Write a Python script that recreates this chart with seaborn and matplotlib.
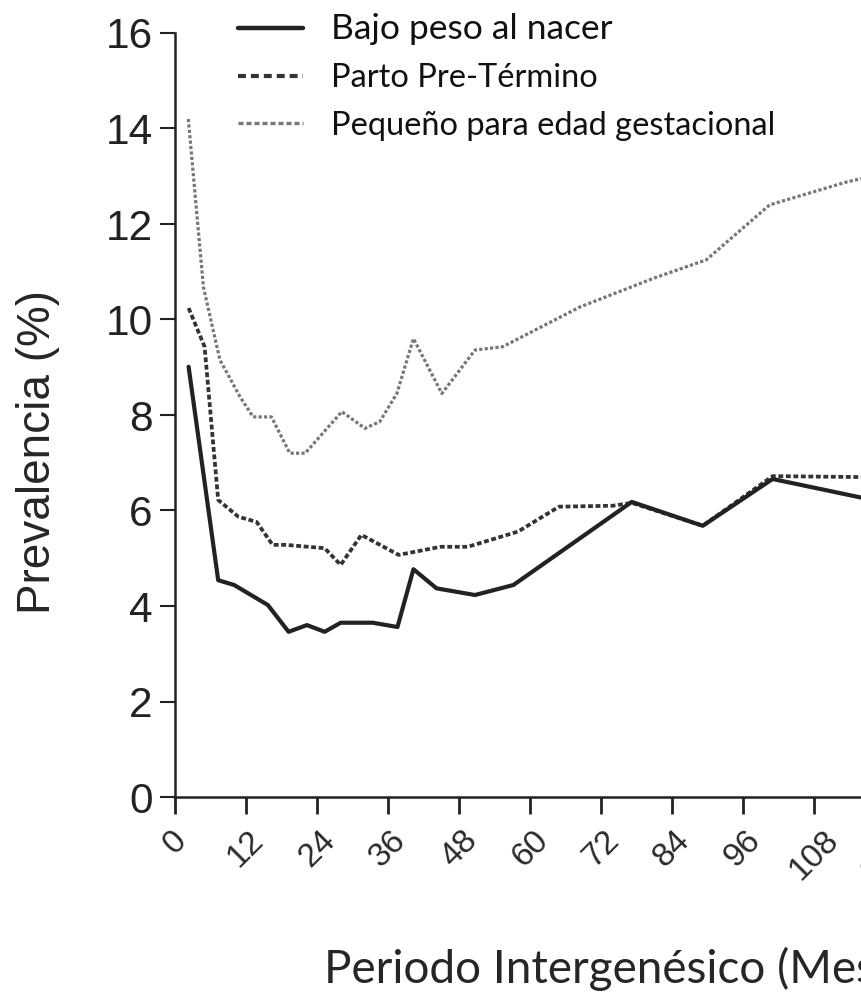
import matplotlib
matplotlib.use("Agg")
import matplotlib.pyplot as plt
import seaborn as sns

# ---------------- data ----------------
bajo_x = [2.3, 7.3, 10.0, 15.7, 19.2, 22.3, 25.3, 28.0, 33.4, 37.6, 40.3, 44.2,
          50.7, 57.2, 77.2, 89.2, 101.0, 116.0]
bajo_y = [9.01, 4.54, 4.44, 4.02, 3.46, 3.60, 3.46, 3.65, 3.65, 3.56, 4.77, 4.37,
          4.23, 4.44, 6.18, 5.68, 6.66, 6.27]

parto_x = [2.3, 5.0, 7.3, 10.7, 13.8, 16.5, 18.8, 25.3, 28.0, 31.5, 37.8, 44.9,
           49.5, 58.0, 64.9, 74.0, 77.2, 89.2, 101.0, 116.0]
parto_y = [10.24, 9.43, 6.22, 5.87, 5.76, 5.28, 5.28, 5.21, 4.86, 5.49, 5.07, 5.24,
           5.24, 5.56, 6.08, 6.10, 6.16, 5.68, 6.72, 6.70]

peq_x = [2.25, 4.8, 7.6, 11.0, 13.2, 16.3, 19.4, 22.0, 28.2, 32.1, 34.6, 37.5,
         40.3, 45.1, 50.7, 55.4, 68.4, 80.8, 89.8, 100.5, 113.5, 116.0]
peq_y = [14.2, 10.68, 9.15, 8.38, 7.96, 7.96, 7.20, 7.20, 8.07, 7.72, 7.86, 8.45,
         9.60, 8.45, 9.36, 9.43, 10.26, 10.86, 11.25, 12.40, 12.88, 12.95]

series_labels = ["Bajo peso al nacer", "Parto Pre-Término", "Pequeño para edad gestacional"]
x_ticks = list(range(0, 157, 12))
y_ticks = list(range(0, 17, 2))
x_label = "Periodo Intergenésico (Meses)"
y_label = "Prevalencia (%)"

# ---------------- style ----------------
sns.set_style("ticks")
plt.rcParams["font.family"] = ["Liberation Sans", "DejaVu Sans"]

W, H = 861, 996
X0, X1, Y0, Y1 = 175, 1098, 797, 33          # axes box in pixels (x1 lies off the canvas)
fig = plt.figure(figsize=(W / 100, H / 100), dpi=100)
ax = fig.add_axes([X0 / W, (H - Y0) / H, (X1 - X0) / W, (Y0 - Y1) / H])

sns.lineplot(x=peq_x, y=peq_y, ax=ax, color="#777777", lw=2.3, sort=False,
             estimator=None, linestyle=(0, (1.0, 0.7)), label=series_labels[2])
sns.lineplot(x=parto_x, y=parto_y, ax=ax, color="#333333", lw=2.7, sort=False,
             estimator=None, linestyle=(0, (1.3, 0.7)), label=series_labels[1])
sns.lineplot(x=bajo_x, y=bajo_y, ax=ax, color="#222222", lw=3.0, sort=False,
             estimator=None, label=series_labels[0])

ax.set_xlim(0, 156)
ax.set_ylim(0, 16)
ax.set_xticks(x_ticks)
ax.set_yticks(y_ticks)
sns.despine(ax=ax)
for s in ("left", "bottom"):
    ax.spines[s].set_linewidth(1.8)
    ax.spines[s].set_color("#222222")

ax.tick_params(axis="y", length=11, width=1.5, labelsize=30.5, pad=5, colors="#222222")
ax.tick_params(axis="x", length=12, width=2.0, labelsize=24, pad=8, colors="#222222")
for lbl in ax.get_xticklabels():
    lbl.set_rotation(45)
    lbl.set_ha("center")
    lbl.set_va("top")
    lbl.set_color("#2a2a2a")

axw, axh = X1 - X0, Y0 - Y1
ax.set_ylabel(y_label, fontsize=33, family=["Liberation Sans", "DejaVu Sans"], va="center")
ax.yaxis.set_label_coords(-(X0 - 38) / axw, (Y0 - 452) / axh)
ax.set_xlabel(x_label, fontsize=33, family=["Lato", "DejaVu Sans"], va="baseline")
ax.xaxis.set_label_coords((628 - X0) / axw, -(983 - Y0) / axh)

handles, labels = ax.get_legend_handles_labels()
order = [labels.index(l) for l in series_labels]
leg = ax.legend([handles[i] for i in order], [labels[i] for i in order],
                loc="upper left", bbox_to_anchor=(238 / W, 1 - 13 / H),
                bbox_transform=fig.transFigure, frameon=False,
                prop={"family": ["Lato", "DejaVu Sans"], "size": 23.5},
                handlelength=2.0, handletextpad=0.85, labelspacing=0.55,
                borderaxespad=0, borderpad=0)
texts = leg.get_texts()
texts[0].set_fontsize(25.5)
for t in texts:
    t.set_color("#111111")
lines = leg.get_lines()
lines[0].set_linewidth(3.2)
lines[1].set_linewidth(3.0)
lines[1].set_linestyle((0, (1.9, 1.2)))
lines[2].set_linewidth(2.4)
lines[2].set_linestyle((0, (1.5, 0.9)))

fig.savefig("out.png", dpi=100)
